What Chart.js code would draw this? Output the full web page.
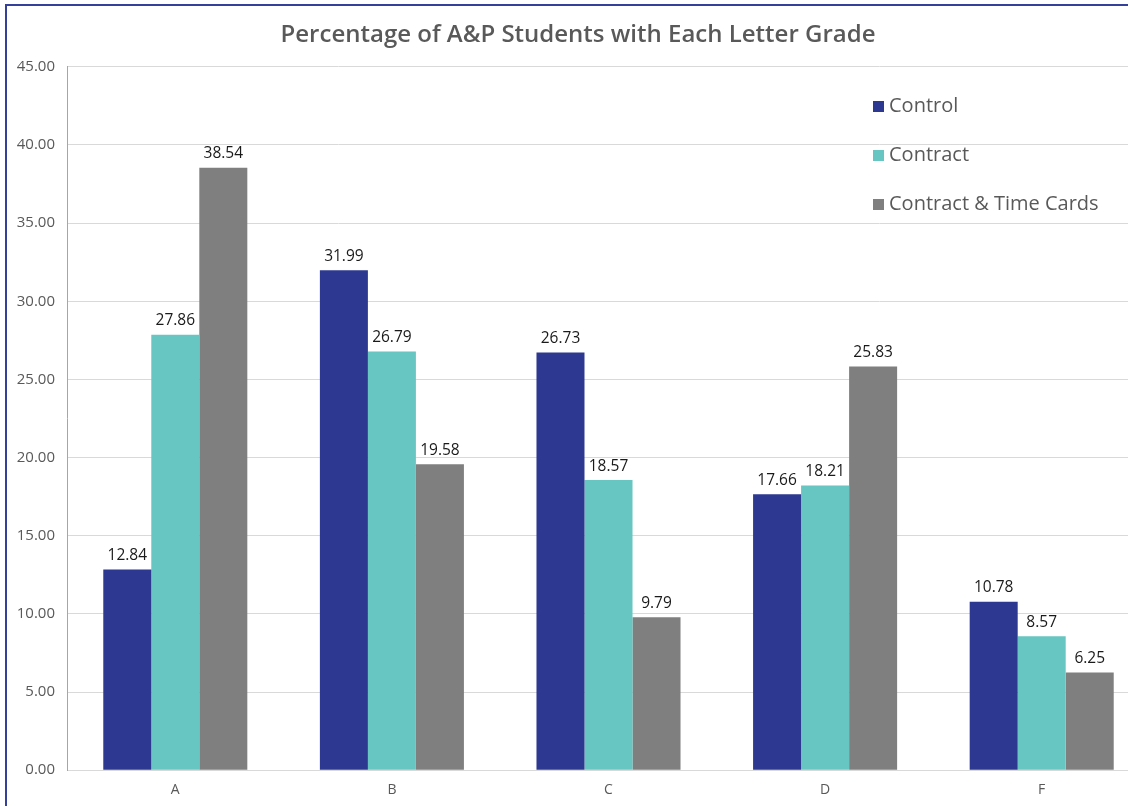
<!DOCTYPE html>
<html>
<head>
<meta charset="utf-8">
<script src="https://cdn.jsdelivr.net/npm/chart.js@4.4.1/dist/chart.umd.min.js"></script>
<style>
  html, body { margin: 0; padding: 0; background: #fff; overflow: hidden; }
  body { width: 1128px; height: 806px; position: relative; }
  #frame {
    position: absolute; left: 5px; top: 4px;
    width: 1146px; height: 806px;
    border-left: 2px solid #34409a; border-top: 2px solid #34409a;
  }
  #wrap { position: absolute; left: 6px; top: 5px; width: 1144px; height: 796px; }
</style>
</head>
<body>
<div id="frame"></div>
<div id="wrap"><canvas id="gradeChart"></canvas></div>
<script>
// Données du graphique
const grades = ['A', 'B', 'C', 'D', 'F'];
const seriesNames = ['Control', 'Contract', 'Contract & Time Cards'];
const controlValues = [12.84, 31.99, 26.73, 17.66, 10.78];
const contractValues = [27.86, 26.79, 18.57, 18.21, 8.57];
const timeCardValues = [38.54, 19.58, 9.79, 25.83, 6.25];
const yTicks = [0, 5, 10, 15, 20, 25, 30, 35, 40, 45];

const seriesColors = ['#2d3890', '#67c6c1', '#7f7f7f'];
const textGray = '#595959';
const fontName = "'Open Sans', sans-serif";

// Étiquettes de valeur au-dessus des barres
const valueLabels = {
    id: 'valueLabels',
    afterDatasetsDraw(chart) {
        const c = chart.ctx;
        c.save();
        c.font = '15.5px ' + fontName;
        c.fillStyle = '#1a1a1a';
        c.textAlign = 'center';
        c.textBaseline = 'bottom';
        chart.data.datasets.forEach((ds, i) => {
            chart.getDatasetMeta(i).data.forEach((bar, j) => {
                c.fillText(ds.data[j].toFixed(2), bar.x, bar.y - 6);
            });
        });
        c.restore();
    }
};

// Légende dans la zone du graphique, en haut à droite
const innerLegend = {
    id: 'innerLegend',
    afterDraw(chart) {
        const c = chart.ctx;
        const x = 867, y0 = 101, step = 49;
        c.save();
        c.font = '20px ' + fontName;
        c.textBaseline = 'middle';
        c.textAlign = 'left';
        chart.data.datasets.forEach((ds, i) => {
            const y = y0 + i * step;
            c.fillStyle = ds.backgroundColor;
            c.fillRect(x, y - 5, 11, 11);
            c.fillStyle = textGray;
            c.fillText(ds.label, x + 16, y);
        });
        c.restore();
    }
};

const ctx = document.getElementById('gradeChart').getContext('2d');
const gradeChart = new Chart(ctx, {
    type: 'bar',
    data: {
        labels: grades,
        datasets: [
            { label: seriesNames[0], data: controlValues, backgroundColor: seriesColors[0] },
            { label: seriesNames[1], data: contractValues, backgroundColor: seriesColors[1] },
            { label: seriesNames[2], data: timeCardValues, backgroundColor: seriesColors[2] }
        ]
    },
    options: {
        responsive: true,
        maintainAspectRatio: false,
        animation: false,
        datasets: {
            bar: { categoryPercentage: 0.665, barPercentage: 1.0 }
        },
        layout: { padding: { left: 0, right: 0, top: 0, bottom: 0 } },
        plugins: {
            legend: { display: false },
            tooltip: { enabled: false },
            title: {
                display: true,
                text: 'Percentage of A&P Students with Each Letter Grade',
                color: textGray,
                font: { family: fontName, size: 24, weight: '600' },
                padding: { top: 16, bottom: 17 }
            }
        },
        scales: {
            x: {
                grid: { display: false },
                border: { color: '#d9d9d9' },
                ticks: { color: textGray, font: { family: fontName, size: 14 }, padding: 3 }
            },
            y: {
                min: 0,
                max: 45,
                afterFit(scale) { scale.width = 61; },
                afterBuildTicks(scale) { scale.ticks = yTicks.map(v => ({ value: v })); },
                grid: { color: '#d9d9d9', drawTicks: false },
                border: { color: '#a6a6a6' },
                ticks: {
                    color: textGray,
                    font: { family: fontName, size: 15 },
                    padding: 12,
                    callback: v => v.toFixed(2)
                }
            }
        }
    },
    plugins: [valueLabels, innerLegend]
});
</script>
</body>
</html>
